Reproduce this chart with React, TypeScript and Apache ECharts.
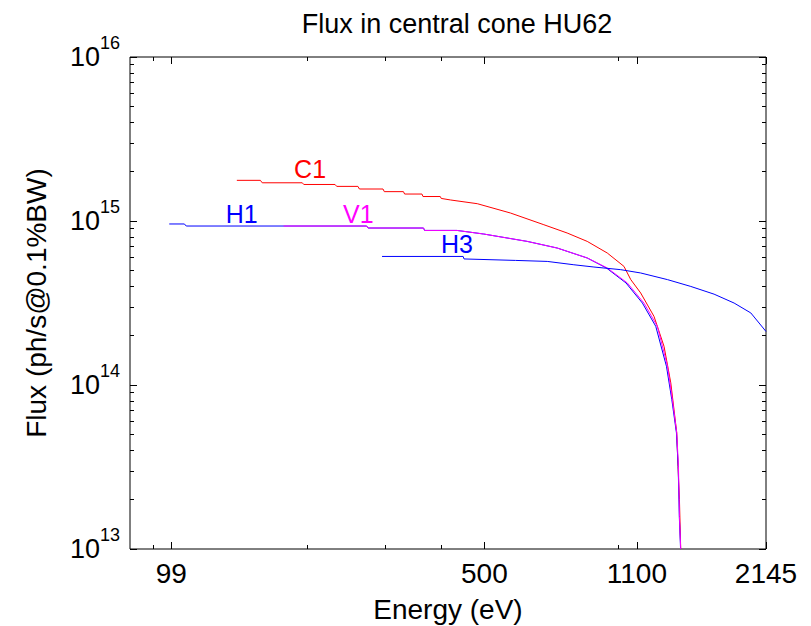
import React, { useEffect, useRef } from "react";
import * as echarts from "echarts";

const TITLE = "Flux in central cone HU62";
const X_NAME = "Energy (eV)";
const Y_NAME = "Flux (ph/s@0.1%BW)";

const X_MIN = 80;
const X_MAX = 2145;
const Y_MIN = 1e13;
const Y_MAX = 1e16;

const X_MAJOR_TICKS = [99, 500, 1100, 2145];
const X_MINOR_TICKS = [90, 200, 300, 400, 1000];
const Y_MAJOR_EXPONENTS = [13, 14, 15, 16];
const Y_MINOR_MULTIPLIERS = [2, 3, 4, 5, 6, 7, 8, 9];

// [energy (eV), flux (ph/s/0.1%BW)]
const C1: [number, number][] = [
  [139, 1.77e15], [157, 1.77e15], [158.5, 1.71e15], [195, 1.71e15], [196.5, 1.67e15],
  [231, 1.67e15], [233, 1.626e15], [260, 1.626e15], [262, 1.567e15], [296, 1.567e15],
  [298, 1.51e15], [329, 1.51e15], [331, 1.46e15], [362, 1.46e15], [364, 1.41e15],
  [398, 1.41e15], [400, 1.373e15], [420, 1.343e15], [482, 1.275e15], [572, 1.119e15],
  [680, 9.49e14], [767, 8.45e14], [851, 7.51e14], [944, 6.38e14], [1029, 5.29e14],
  [1066, 4.39e14], [1122, 3.64e14], [1202, 2.62e14], [1266, 1.72e14], [1311, 1.03e14],
  [1333, 7.06e13], [1352, 5.12e13], [1361, 3.19e13], [1371, 2.0e13], [1380, 1.0e13],
];

const H1: [number, number][] = [
  [98, 9.59e14], [106, 9.59e14], [107, 9.32e14], [272, 9.32e14], [274, 9.06e14],
  [365, 9.06e14], [367, 8.76e14], [434, 8.76e14], [498, 8.33e14], [624, 7.51e14],
  [729, 6.84e14], [851, 5.95e14], [940, 5.17e14], [1040, 4.19e14], [1132, 3.16e14],
  [1213, 2.28e14], [1282, 1.3e14], [1318, 8.14e13], [1350, 5.1e13], [1362, 3.19e13],
  [1370, 1.58e13], [1379, 1.0e13],
];

const V1: [number, number][] = [
  [177, 9.32e14], [272, 9.32e14], [274, 9.06e14], [365, 9.06e14], [367, 8.76e14],
  [434, 8.76e14], [498, 8.33e14], [624, 7.51e14], [729, 6.84e14], [851, 5.95e14],
  [944, 5.17e14], [1047, 4.19e14], [1141, 3.16e14], [1223, 2.28e14], [1289, 1.3e14],
  [1322, 8.14e13], [1352, 5.1e13], [1364, 3.19e13], [1371, 1.58e13], [1380, 1.0e13],
];

const H3: [number, number][] = [
  [294.5, 6.08e14], [448, 6.08e14], [450, 5.87e14], [587, 5.75e14], [692, 5.67e14],
  [794, 5.41e14], [881, 5.24e14], [1012, 5.05e14], [1122, 4.82e14], [1289, 4.39e14],
  [1454, 3.99e14], [1640, 3.58e14], [1819, 3.16e14], [1983, 2.75e14], [2145, 2.12e14],
];

const SERIES_NAMES = ["C1", "H1", "V1", "H3"];
const SERIES_DATA = [C1, H1, V1, H3];
const SERIES_COLORS = ["#ff0000", "#0000ff", "#ff00ff", "#0000ff"];
// text annotation anchors [energy, flux]
const LABEL_ANCHORS: [number, number][] = [
  [203, 2.08e15], [142.6, 1.1e15], [260.6, 1.1e15], [434, 7.29e14],
];

const FONT = "'Liberation Sans', Arial, Helvetica, sans-serif";

export default function App() {
  const ref = useRef<HTMLDivElement>(null);

  useEffect(() => {
    const chart = echarts.init(ref.current!, null, { renderer: "svg" });
    const lx = (v: number) => Math.log10(v);
    const xMajor = X_MAJOR_TICKS.map(lx);
    const xMinor = X_MINOR_TICKS.map(lx);
    const yMajor = Y_MAJOR_EXPONENTS.slice();
    const yMinor: number[] = [];
    Y_MAJOR_EXPONENTS.slice(0, -1).forEach((e) =>
      Y_MINOR_MULTIPLIERS.forEach((m) => yMinor.push(e + Math.log10(m)))
    );

    const auxX = (position: string, ticks: number[], len: number, labels: boolean) => ({
      type: "value",
      gridIndex: 0,
      position,
      min: lx(X_MIN),
      max: lx(X_MAX),
      axisLine: { show: false, onZero: false },
      splitLine: { show: false },
      axisTick: { show: true, inside: true, length: len, customValues: ticks, lineStyle: { color: "#000", width: 1 } },
      axisLabel: labels
        ? {
            show: true,
            customValues: ticks,
            margin: 10,
            color: "#000",
            fontSize: 28,
            fontFamily: FONT,
            formatter: (v: number) => String(Math.round(Math.pow(10, v))),
          }
        : { show: false },
      ...(labels
        ? {
            name: X_NAME,
            nameLocation: "middle",
            nameGap: 46,
            nameTextStyle: { color: "#000", fontSize: 28, fontFamily: FONT },
          }
        : {}),
    });

    const auxY = (position: string, ticks: number[], len: number, labels: boolean) => ({
      type: "value",
      gridIndex: 0,
      position,
      min: 13,
      max: 16,
      axisLine: { show: false, onZero: false },
      splitLine: { show: false },
      axisTick: { show: true, inside: true, length: len, customValues: ticks, lineStyle: { color: "#000", width: 1 } },
      axisLabel: labels
        ? {
            show: true,
            customValues: ticks,
            margin: 10,
            color: "#000",
            fontFamily: FONT,
            formatter: (v: number) => `{b|10}{s|${Math.round(v)}}`,
            rich: {
              b: { fontSize: 27, fontFamily: FONT, color: "#000", lineHeight: 27 },
              s: { fontSize: 18, fontFamily: FONT, color: "#000", lineHeight: 18, padding: [0, 0, 28, 0] },
            },
          }
        : { show: false },
      ...(labels
        ? {
            name: Y_NAME,
            nameLocation: "middle",
            nameRotate: 90,
            nameGap: 80,
            nameTextStyle: { color: "#000", fontSize: 28, fontFamily: FONT },
          }
        : {}),
    });

    const option: any = {
      animation: false,
      backgroundColor: "#fff",
      title: {
        text: TITLE,
        left: 452,
        top: 5,
        textAlign: "center",
        textStyle: { color: "#000", fontSize: 27, fontWeight: "normal", fontFamily: FONT },
      },
      grid: {
        left: 130,
        top: 57,
        width: 636,
        height: 492,
        show: true,
        borderColor: "#000",
        borderWidth: 1,
        backgroundColor: "#fff",
        containLabel: false,
        outerBoundsMode: "none",
      },
      xAxis: [
        {
          type: "log",
          logBase: 10,
          min: X_MIN,
          max: X_MAX,
          position: "bottom",
          axisLine: { show: false, onZero: false },
          axisTick: { show: false },
          axisLabel: { show: false },
          splitLine: { show: false },
          minorTick: { show: false },
        },
        auxX("bottom", xMajor, 7, true),
        auxX("bottom", xMinor, 4, false),
        auxX("top", xMajor, 7, false),
        auxX("top", xMinor, 4, false),
      ],
      yAxis: [
        {
          type: "log",
          logBase: 10,
          min: Y_MIN,
          max: Y_MAX,
          position: "left",
          axisLine: { show: false, onZero: false },
          axisTick: { show: false },
          axisLabel: { show: false },
          splitLine: { show: false },
          minorTick: { show: false },
        },
        auxY("left", yMajor, 7, true),
        auxY("left", yMinor, 4, false),
        auxY("right", yMajor, 7, false),
        auxY("right", yMinor, 4, false),
      ],
      series: SERIES_NAMES.map((name, i) => ({
        type: "line",
        name,
        xAxisIndex: 0,
        yAxisIndex: 0,
        data: SERIES_DATA[i],
        showSymbol: false,
        symbol: "none",
        silent: true,
        clip: true,
        lineStyle: { color: SERIES_COLORS[i], width: 1 },
        itemStyle: { color: SERIES_COLORS[i] },
        markPoint: {
          symbol: "circle",
          symbolSize: 0,
          silent: true,
          itemStyle: { color: "transparent" },
          label: {
            show: true,
            position: "inside",
            formatter: name,
            color: SERIES_COLORS[i],
            fontSize: 25,
            fontFamily: FONT,
          },
          data: [{ name, coord: LABEL_ANCHORS[i] }],
        },
      })),
    };

    chart.setOption(option);
    return () => chart.dispose();
  }, []);

  return (
    <div
      ref={ref}
      style={{ position: "absolute", left: 0, top: 0, width: 811, height: 626 }}
    />
  );
}
